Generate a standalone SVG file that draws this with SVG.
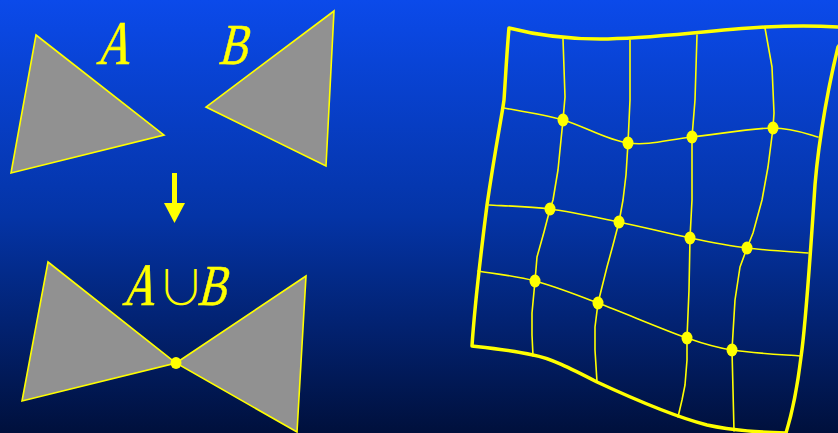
<svg xmlns="http://www.w3.org/2000/svg" width="838" height="433" viewBox="0 0 838 433">
<defs>
<linearGradient id="bg" x1="0" y1="0" x2="0" y2="1">
<stop offset="0" stop-color="#0b4aea"/>
<stop offset="0.5" stop-color="#0434a6"/>
<stop offset="1" stop-color="#00103c"/>
</linearGradient>
</defs>
<style>
.tri{fill:#919191;stroke:#ffff00;stroke-width:1.6;stroke-linejoin:miter}
.lbl{fill:#ffff00;stroke:#ffff00;stroke-width:0.6;font-family:"Liberation Serif","DejaVu Serif",serif;font-style:normal}
.cup{fill:#ffff00;font-family:"Noto Sans CJK SC","DejaVu Sans",sans-serif;font-weight:300}
.grid{fill:none;stroke:#ffff00;stroke-width:1.6;stroke-linejoin:round;stroke-linecap:round}
.outline{fill:none;stroke:#ffff00;stroke-width:3.5;stroke-linejoin:round}
.dot{fill:#ffff00}
</style>
<rect x="0" y="0" width="838" height="433" fill="url(#bg)"/>

<g id="triangle-A">
<polygon class="tri" points="36,35 164,135 11,173"/>
<text class="lbl" font-size="62" transform="translate(96,64) skewX(-14) scale(0.74,1)">A</text>
</g>
<g id="triangle-B">
<polygon class="tri" points="334,11 206,107 326,166"/>
<text class="lbl" font-size="58" transform="translate(218,64) skewX(-14) scale(0.74,1)">B</text>
</g>

<g id="arrow">
<rect x="172" y="173" width="5" height="31" fill="#ffff00"/>
<polygon points="164,203 185,203 174.5,223" fill="#ffff00"/>
</g>

<g id="union">
<polygon class="tri" points="48,262 176,363 22,401"/>
<polygon class="tri" points="306,276 176,363 297,432"/>
<ellipse class="dot" cx="176" cy="363" rx="5.5" ry="6"/>
<text class="lbl" font-size="60" transform="translate(122,305) skewX(-14) scale(0.74,1)">A</text>
<text class="cup" font-size="48" x="157" y="305">∪</text>
<text class="lbl" font-size="58" transform="translate(197,305) skewX(-14) scale(0.74,1)">B</text>
</g>

<g id="mesh">
<path class="outline" d="M509,28 C540,36 570,39 600,39 C650,39 700,31 765,27 C800,25 830,26 852,28 L838,47 C825,100 816,160 814,200 C810,260 805,330 801,357 C797,390 790,420 786,433 C760,432 735,431 707,425 C680,418 640,402 597,382 C570,368 550,358 533,355 C510,350 490,348 472,346 C475,300 480,260 487,205 C495,150 502,115 504,100 C506,70 507,50 509,28 Z"/>
<g id="connectors">
<path class="grid" d="M504,108 C513.8,110 542.3,114.2 563,120 C583.7,125.8 606.5,140.2 628,143 C649.5,145.8 667.8,139.5 692,137 C716.2,134.5 752,128 773,128 C794,128 810.5,135.5 818,137"/>
<path class="grid" d="M489,205 C499.2,205.7 528.3,206.2 550,209 C571.7,211.8 595.7,217.2 619,222 C642.3,226.8 668.7,233.7 690,238 C711.3,242.3 727.3,245.5 747,248 C766.7,250.5 797.8,252.2 808,253"/>
<path class="grid" d="M478,271 C487.5,272.7 515,275.7 535,281 C555,286.3 572.7,293.5 598,303 C623.3,312.5 664.7,330.2 687,338 C709.3,345.8 718,348 732,350 C750.8,353 788.7,355 800,356"/>
<polyline class="grid" points="563,39 565,97 563,120 558,170 553,200 550,209 544,232 537,257 535,281 532,313 532,335 533,356"/>
<polyline class="grid" points="630,40 630,100 628,143 626,175 623,200 619,222 613,245 607,267 598,303 595,327 595,350 597,382"/>
<polyline class="grid" points="697,35 695,100 692,137 692,200 690,238 689,290 687,338 687,360 685,385 682,400 678,417"/>
<polyline class="grid" points="765,28 772,67 774,113 773,128 768,167 762,200 753,233 747,248 740,267 735,300 733,333 732,350 733,390 734,431"/>
</g>
<g id="nodes">
<ellipse class="dot" cx="563" cy="120" rx="5.5" ry="6.5"/>
<ellipse class="dot" cx="628" cy="143" rx="5.5" ry="6.5"/>
<ellipse class="dot" cx="692" cy="137" rx="5.5" ry="6.5"/>
<ellipse class="dot" cx="773" cy="128" rx="5.5" ry="6.5"/>
<ellipse class="dot" cx="550" cy="209" rx="5.5" ry="6.5"/>
<ellipse class="dot" cx="619" cy="222" rx="5.5" ry="6.5"/>
<ellipse class="dot" cx="690" cy="238" rx="5.5" ry="6.5"/>
<ellipse class="dot" cx="747" cy="248" rx="5.5" ry="6.5"/>
<ellipse class="dot" cx="535" cy="281" rx="5.5" ry="6.5"/>
<ellipse class="dot" cx="598" cy="303" rx="5.5" ry="6.5"/>
<ellipse class="dot" cx="687" cy="338" rx="5.5" ry="6.5"/>
<ellipse class="dot" cx="732" cy="350" rx="5.5" ry="6.5"/>
</g>
</g>
</svg>
